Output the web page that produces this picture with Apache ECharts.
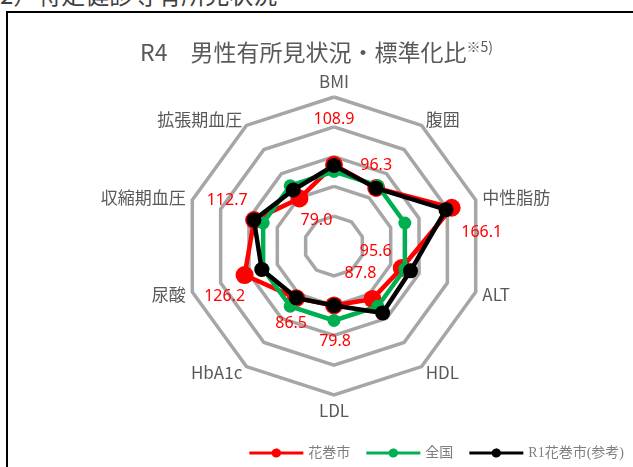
<!DOCTYPE html>
<html>
<head>
<meta charset="utf-8">
<script src="https://cdn.jsdelivr.net/npm/echarts@6/dist/echarts.min.js"></script>
<style>
  html, body { margin: 0; padding: 0; background: #fff; }
  .page { position: relative; width: 633px; height: 467px; overflow: hidden; }
  .heading {
    position: absolute; left: 0; top: -24px;
    font: 24px 'Noto Sans CJK JP', sans-serif; color: #404040; white-space: nowrap;
  }
  .frame {
    position: absolute; left: 6px; top: 11px; width: 660px; height: 500px;
    border: 2px solid #000; box-sizing: border-box;
  }
  #chart { position: absolute; left: 0; top: 0; width: 633px; height: 467px; }
</style>
</head>
<body>
<div class="page">
  <div class="heading">2）特定健診等有所見状況</div>
  <div class="frame"></div>
  <div id="chart"></div>
</div>
<script>
// clockwise from the top, as in the picture
const categories = ['BMI', '腹囲', '中性脂肪', 'ALT', 'HDL', 'LDL', 'HbA1c', '尿酸', '収縮期血圧', '拡張期血圧']
const hanamaki = [108.9, 96.3, 166.1, 95.6, 87.8, 79.8, 86.5, 126.2, 112.7, 79.0]
const national = [100, 100, 100, 100, 100, 100, 100, 100, 100, 100]
const hanamakiR1 = [108, 96, 158, 108, 111, 80, 86, 102, 113, 93]
const seriesNames = ['花巻市', '全国', 'R1花巻市(参考)']
// where each red value label sits relative to its point
const labelOffsets = [[0, -45], [0, -23], [30, 25], [-26, -17], [-12, -25], [1, 36], [-5, 25], [-20, 21], [-27, -20], [17, 22]]

// echarts places radar indicators counter-clockwise, so walk the list backwards
const order = categories.map((_, i) => (categories.length - i) % categories.length)
const pick = (arr) => order.map((i) => arr[i])

const chart = echarts.init(document.getElementById('chart'))

const lineIcon = 'path://M0,3.5 L23,3.5 A4.5,4.5 0 1 1 23,6.5 L0,6.5 Z M31,3.5 L54,3.5 L54,6.5 L31,6.5 A4.5,4.5 0 1 1 31,3.5 Z'

const mkSeries = (name, values, color, size, z) => ({
  name,
  type: 'radar',
  z,
  symbol: 'circle',
  symbolSize: size,
  lineStyle: { color, width: 4.5 },
  itemStyle: { color },
  data: [{ name, value: pick(values) }],
})

const labelItems = categories.map((cat, k) => ({
  value: pick(hanamaki),
  label: {
    show: true,
    position: 'inside',
    offset: labelOffsets[k],
    color: '#FF0000',
    fontSize: 16,
    fontFamily: 'Noto Sans',
    formatter: (p) => (p.value === hanamaki[k] ? hanamaki[k].toFixed(1) : ''),
  },
}))

chart.setOption({
  animation: false,
  title: {
    text: '{a|R4　男性有所見状況・標準化比}{b|※5)}',
    left: 'center',
    top: 35,
    textStyle: {
      fontWeight: 'normal',
      rich: {
        a: { fontSize: 23, color: '#595959', fontWeight: 'normal', fontFamily: 'Noto Sans CJK JP' },
        b: { fontSize: 14, color: '#595959', fontWeight: 'normal', fontFamily: 'Noto Sans CJK JP', padding: [0, 0, 10, 0] },
      },
    },
  },
  legend: {
    data: seriesNames,
    right: 4,
    top: 441,
    icon: lineIcon,
    itemWidth: 54,
    itemHeight: 10,
    itemGap: 16,
    textStyle: { color: '#7F7F7F', fontSize: 14, fontFamily: 'Liberation Serif, Noto Sans CJK JP' },
  },
  radar: {
    center: [334, 246],
    radius: 149,
    shape: 'polygon',
    splitNumber: 5,
    nameGap: 7,
    indicator: pick(categories).map((name) => ({ name, min: 0, max: 200 })),
    axisName: { color: '#595959', fontSize: 17, fontFamily: 'Noto Sans CJK JP' },
    axisLine: { show: false },
    axisTick: { show: false },
    splitArea: { show: false },
    splitLine: { lineStyle: { color: '#A6A6A6', width: 3.5 } },
  },
  series: [
    mkSeries(seriesNames[0], hanamaki, '#FF0000', 18, 2),
    mkSeries(seriesNames[1], national, '#00B050', 13, 3),
    mkSeries(seriesNames[2], hanamakiR1, '#000000', 15, 4),
    {
      type: 'radar',
      z: 5,
      silent: true,
      symbol: 'circle',
      symbolSize: 1,
      lineStyle: { width: 0, color: 'transparent' },
      itemStyle: { color: 'transparent' },
      data: labelItems,
    },
  ],
})
</script>
</body>
</html>
